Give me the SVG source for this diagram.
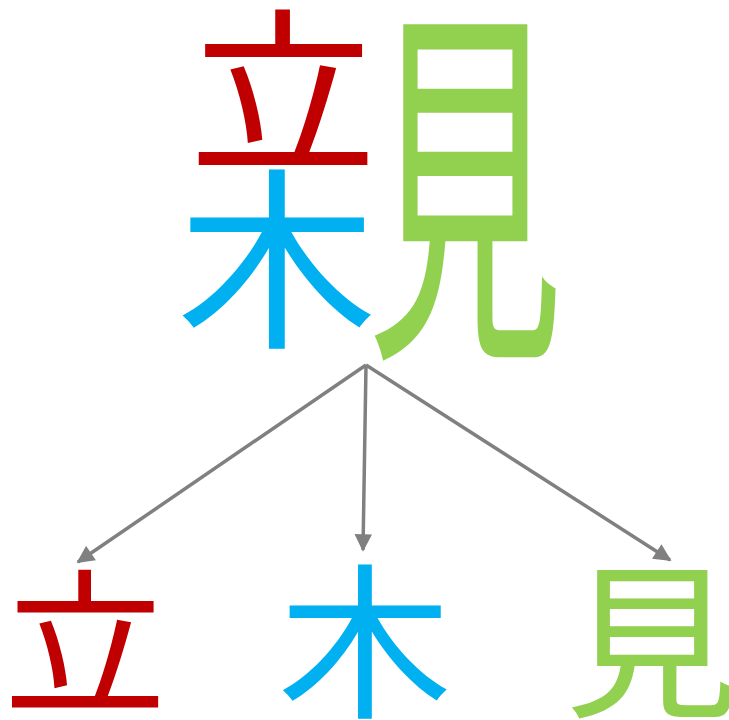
<svg xmlns="http://www.w3.org/2000/svg" width="729" height="720" viewBox="0 0 729 720">
<style>
.ch{font-family:"Noto Sans CJK JP","Noto Sans CJK SC",sans-serif;font-size:100px;text-anchor:middle}
.r{fill:#C00000}.b{fill:#00B0F0}.g{fill:#92D050}
.con line{stroke:#808080;stroke-width:3.5;fill:none;marker-end:url(#ah)}
</style>
<defs>
<marker id="ah" viewBox="0 0 10 10" refX="9" refY="5" markerWidth="5.5" markerHeight="5" markerUnits="strokeWidth" orient="auto">
<path d="M0,0 L10,5 L0,10 z" fill="#808080"/>
</marker>
</defs>
<rect width="729" height="720" fill="#fff"/>
<g id="composite">
<text class="ch r" transform="translate(283,157.5) scale(1.88,1.76)">立</text>
<text class="ch b" transform="translate(277,333) scale(2.0,1.94)">木</text>
<text class="ch g" transform="translate(465,330) scale(1.96,3.8)">見</text>
</g>
<g class="con" id="connectors">
<line x1="366" y1="365" x2="78" y2="562"/>
<line x1="366" y1="365" x2="363" y2="550"/>
<line x1="366" y1="365" x2="670" y2="560"/>
</g>
<g id="n-li"><text class="ch r" transform="translate(85,701) scale(1.63,1.56)">立</text></g>
<g id="n-mu"><text class="ch b" transform="translate(365,705) scale(1.74,1.67)">木</text></g>
<g id="n-mi"><text class="ch g" transform="translate(652,705) scale(1.74,1.67)">見</text></g>
</svg>
